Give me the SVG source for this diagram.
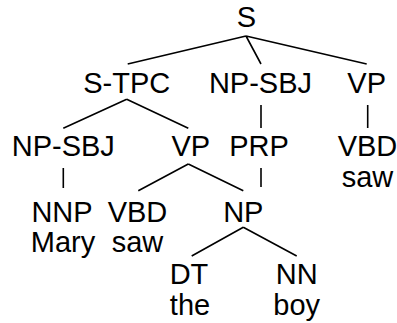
<svg xmlns="http://www.w3.org/2000/svg" width="397" height="323" viewBox="0 0 397 323">
  <style>
    text { font-family: "Liberation Sans", Arial, Helvetica, sans-serif; font-size: 29px; fill: #000; text-anchor: middle; }
    .edge { stroke: #000; stroke-width: 1.6; fill: none; stroke-linecap: butt; }
  </style>
  <rect width="397" height="323" fill="#fff"/>
  <g id="connectors">
    <path class="edge" d="M246,36 L127.7,64 M246,36 L261,64 M246,36 L366.7,64"/>
    <path class="edge" d="M126.7,99.3 L63.3,128.3 M126.7,99.3 L188.3,128.3"/>
    <path class="edge" d="M261,105 L261,128"/>
    <path class="edge" d="M367.7,105 L367.7,128"/>
    <path class="edge" d="M63.3,168 L63.3,188"/>
    <path class="edge" d="M188.3,164 L138.3,190.7 M188.3,164 L243.3,190.7"/>
    <path class="edge" d="M261,168 L261,187"/>
    <path class="edge" d="M243.3,227.3 L191.7,256 M243.3,227.3 L296.7,256"/>
  </g>
  <g id="s"><text x="246.5" y="27">S</text></g>
  <g id="s-tpc"><text x="126.7" y="92.5">S-TPC</text></g>
  <g id="np-sbj"><text x="260.5" y="92.5">NP-SBJ</text></g>
  <g id="vp"><text x="366.7" y="92.5">VP</text></g>
  <g id="np-sbj-2"><text x="63.3" y="155.5">NP-SBJ</text></g>
  <g id="vp-2"><text x="190.8" y="155.5">VP</text></g>
  <g id="prp"><text x="259" y="155.5">PRP</text></g>
  <g id="vbd"><text x="367.5" y="155.5">VBD</text><text x="367.5" y="186.5">saw</text></g>
  <g id="nnp"><text x="62" y="221.5">NNP</text><text x="63" y="252">Mary</text></g>
  <g id="vbd-2"><text x="137.5" y="221.5">VBD</text><text x="137.5" y="252">saw</text></g>
  <g id="np"><text x="243.3" y="221.5">NP</text></g>
  <g id="dt"><text x="189" y="283.5">DT</text><text x="190" y="315">the</text></g>
  <g id="nn"><text x="296.7" y="283.5">NN</text><text x="296.7" y="315">boy</text></g>
</svg>
